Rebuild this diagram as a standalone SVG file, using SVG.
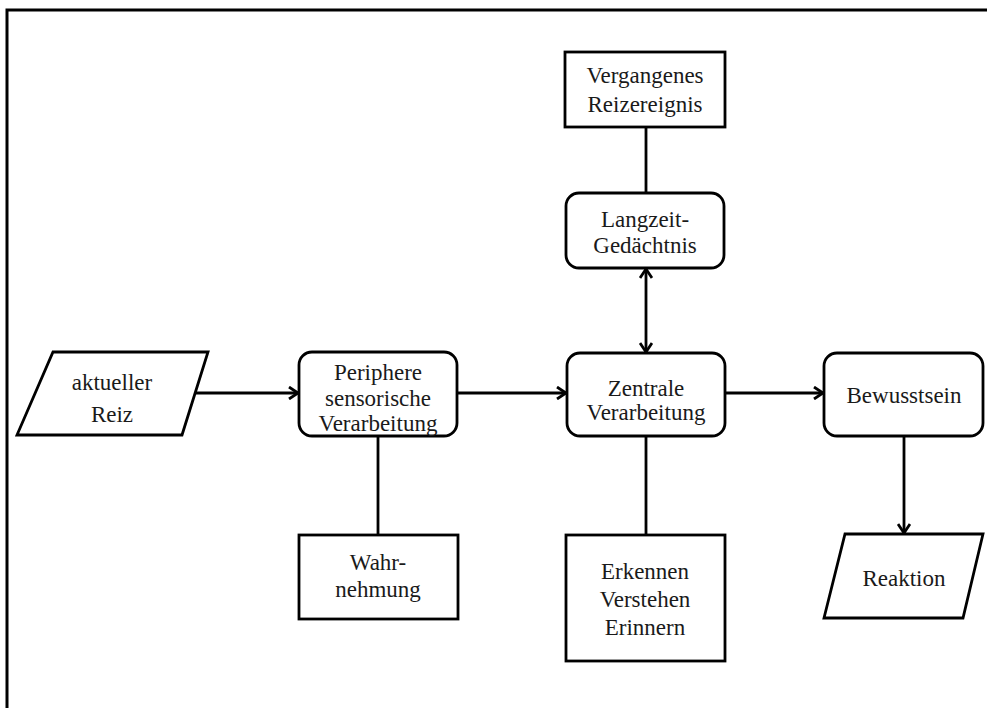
<svg xmlns="http://www.w3.org/2000/svg" width="987" height="708" viewBox="0 0 987 708">
<defs>
<style>
.s{fill:#fff;stroke:#000;stroke-width:2.8}
.c{fill:none;stroke:#000;stroke-width:2.8}
.t text{font-size:23px;fill:#1a1a1a;text-anchor:middle}
</style>
<marker id="a" markerWidth="14" markerHeight="14" refX="11" refY="7" orient="auto-start-reverse" markerUnits="userSpaceOnUse">
<polyline points="2,1 11,7 2,13" fill="none" stroke="#000" stroke-width="2.8"/>
</marker>
</defs>
<rect x="0" y="0" width="987" height="708" fill="#fff"/>
<rect x="7" y="10" width="1010" height="730" fill="none" stroke="#000" stroke-width="3"/>
<g id="connectors">
<line class="c" x1="195" y1="393" x2="298" y2="393" marker-end="url(#a)"/>
<line class="c" x1="457" y1="393" x2="566" y2="393" marker-end="url(#a)"/>
<line class="c" x1="725" y1="393" x2="823" y2="393" marker-end="url(#a)"/>
<line class="c" x1="646" y1="127" x2="646" y2="193"/>
<line class="c" x1="646" y1="269" x2="646" y2="352" marker-start="url(#a)" marker-end="url(#a)"/>
<line class="c" x1="646" y1="436" x2="646" y2="535"/>
<line class="c" x1="378" y1="436" x2="378" y2="535"/>
<line class="c" x1="904" y1="436" x2="904" y2="533" marker-end="url(#a)"/>
</g>
<g class="t" font-family="'Liberation Serif', 'Times New Roman', 'DejaVu Serif', serif">
<g id="aktueller-reiz">
<polygon class="s" points="53,352 208,352 182,435 17,435"/>
<text x="112" y="390">aktueller</text>
<text x="112" y="422">Reiz</text>
</g>
<g id="periphere">
<rect class="s" x="299" y="352" width="158" height="84" rx="13"/>
<text x="378" y="380">Periphere</text>
<text x="378" y="406">sensorische</text>
<text x="378" y="431">Verarbeitung</text>
</g>
<g id="zentrale">
<rect class="s" x="567" y="353" width="158" height="83" rx="13"/>
<text x="646" y="396">Zentrale</text>
<text x="646" y="420">Verarbeitung</text>
</g>
<g id="bewusstsein">
<rect class="s" x="824" y="353" width="159" height="83" rx="13"/>
<text x="904" y="403">Bewusstsein</text>
</g>
<g id="vergangenes">
<rect class="s" x="565" y="52" width="160" height="75"/>
<text x="645" y="83">Vergangenes</text>
<text x="645" y="112">Reizereignis</text>
</g>
<g id="langzeit">
<rect class="s" x="566" y="193" width="158" height="75" rx="13"/>
<text x="645" y="227">Langzeit-</text>
<text x="645" y="253">Gedächtnis</text>
</g>
<g id="wahrnehmung">
<rect class="s" x="299" y="535" width="159" height="84"/>
<text x="378" y="570">Wahr-</text>
<text x="378" y="597">nehmung</text>
</g>
<g id="erkennen">
<rect class="s" x="566" y="535" width="159" height="126"/>
<text x="645" y="579">Erkennen</text>
<text x="645" y="607">Verstehen</text>
<text x="645" y="635">Erinnern</text>
</g>
<g id="reaktion">
<polygon class="s" points="845,534 983,534 963,618 824,618"/>
<text x="904" y="586">Reaktion</text>
</g>
</g>
</svg>
